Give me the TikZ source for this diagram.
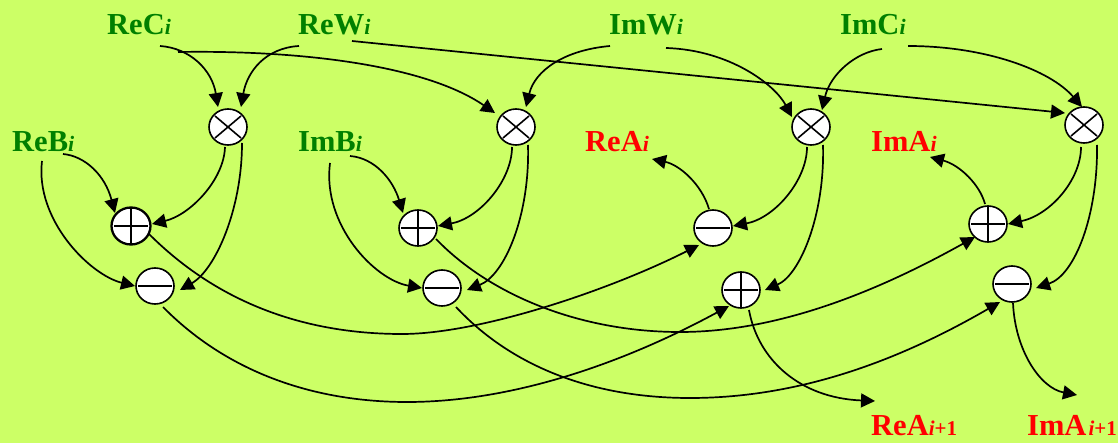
\documentclass[tikz,border=0pt]{standalone}
\usepackage{fontspec}
\setmainfont{Liberation Serif}
\usetikzlibrary{arrows.meta,shapes.geometric}
\definecolor{bgc}{RGB}{204,255,102}
\definecolor{grn}{RGB}{0,128,0}
\newcommand{\subf}{\fontsize{22}{22}\selectfont\bfseries\itshape}
\newcommand{\sbi}{{\subf i}}
\newcommand{\sbn}{{\fontsize{21}{21}\selectfont\bfseries{\itshape i}+1}}
\tikzset{
 x=1pt,y=-1pt,
 edge/.style={line width=1.7pt,-{Triangle[length=14pt,width=14pt]}},
 op/.style={draw=black,line width=1.6pt,fill=white,ellipse,minimum width=38pt,minimum height=36pt,inner sep=0pt},
 mulop/.style={op,path picture={\draw[line width=1.6pt] (path picture bounding box.center)+(-13,-11)--+(13,11) (path picture bounding box.center)+(13,-11)--+(-13,11);}},
 addop/.style={op,path picture={\draw[line width=1.8pt] (path picture bounding box.center)+(-17,0)--+(17,0) (path picture bounding box.center)+(0,-18)--+(0,18);}},
 subop/.style={op,path picture={\draw[line width=1.8pt] (path picture bounding box.center)+(-17,0)--+(17,0);}},
 lab/.style={anchor=base west,inner sep=0pt,font=\fontsize{30.5}{30}\selectfont\bfseries},
 inlab/.style={lab,text=grn},
 outlab/.style={lab,text=red},
}
\begin{document}
\begin{tikzpicture}
\useasboundingbox[fill=bgc] (0,0) rectangle (1118,443);
% labels
\node[inlab] (ReC) at (107,35) {ReC\sbi};
\node[inlab] (ReW) at (298,35) {ReW\sbi};
\node[inlab] (ImW) at (609,35) {ImW\sbi};
\node[inlab] (ImC) at (840,35) {ImC\sbi};
\node[inlab] (ReB) at (12,152) {ReB\sbi};
\node[inlab] (ImB) at (298,152) {ImB\sbi};
\node[outlab] (ReA) at (585,152) {ReA\sbi};
\node[outlab] (ImA) at (871,152) {ImA\sbi};
\node[outlab] (ReAn) at (871,435) {ReA\sbn};
\node[outlab] (ImAn) at (1027,435) {ImA\hspace{2pt}\sbn};
% operators
\node[mulop] (m1) at (228,127) {};
\node[addop,line width=2.3pt,minimum width=39pt,minimum height=37pt] (a1) at (131,226) {};
\node[subop] (s1) at (155,286) {};
\node[mulop] (m2) at (516,127) {};
\node[addop] (a2) at (418,228) {};
\node[subop] (s2) at (442,288) {};
\node[subop] (s3) at (713,228) {};
\node[addop] (a3) at (741,290) {};
\node[mulop] (m3) at (811,127) {};
\node[mulop] (m4) at (1084,125) {};
\node[addop] (a4) at (988,224) {};
\node[subop] (s4) at (1012,284) {};
% connectors
\draw[edge] ([shift={(53,11)}]ReC.base west) .. controls (190,48) and (212,70) .. ([shift={(-10,-20)}]m1.center);
\draw[edge] ([shift={(1,11)}]ReW.base west) .. controls (265,48) and (247,72) .. ([shift={(13,-20)}]m1.center);
\draw[edge] ([shift={(71,17)}]ReC.base west) .. controls (300,50) and (425,65) .. ([shift={(-21,-14)}]m2.center);
\draw[edge] ([shift={(54,6)}]ReW.base west) -- ([shift={(-19,-12)}]m4.center);
\draw[edge] ([shift={(1,11)}]ImW.base west) .. controls (565,50) and (535,70) .. ([shift={(10,-20)}]m2.center);
\draw[edge] ([shift={(57,13)}]ImW.base west) .. controls (730,50) and (775,85) .. ([shift={(-19,-10)}]m3.center);
\draw[edge] ([shift={(42,14)}]ImC.base west) .. controls (855,52) and (830,75) .. ([shift={(11,-17)}]m3.center);
\draw[edge] ([shift={(68,11)}]ImC.base west) .. controls (985,46) and (1050,70) .. ([shift={(-2,-18)}]m4.center);
\draw[edge] ([shift={(-3,20)}]m1.center) .. controls (224,180) and (190,215) .. ([shift={(21,-2)}]a1.center);
\draw[edge] ([shift={(14,16)}]m1.center) .. controls (242,210) and (215,270) .. ([shift={(25,4)}]s1.center);
\draw[edge] ([shift={(51,2)}]ReB.base west) .. controls (85,156) and (105,175) .. ([shift={(-16,-13)}]a1.center);
\draw[edge] ([shift={(30,9)}]ReB.base west) .. controls (35,220) and (90,275) .. ([shift={(-20,0)}]s1.center);
\draw[edge] ([shift={(18,8)}]a1.center) .. controls (215,300) and (300,334) .. (402,334) .. controls (480,334) and (610,290) .. ([shift={(-14,17)}]s3.center);
\draw[edge] ([shift={(8,21)}]s1.center) .. controls (225,370) and (310,402) .. (407,402) .. controls (510,402) and (620,365) .. ([shift={(-12,16)}]a3.center);
\draw[edge] ([shift={(52,4)}]ImB.base west) .. controls (375,158) and (393,180) .. ([shift={(-15,-15)}]a2.center);
\draw[edge] ([shift={(32,11)}]ImB.base west) .. controls (322,225) and (375,280) .. ([shift={(-20,0)}]s2.center);
\draw[edge] ([shift={(-4,20)}]m2.center) .. controls (512,180) and (480,218) .. ([shift={(20,-2)}]a2.center);
\draw[edge] ([shift={(12,18)}]m2.center) .. controls (530,215) and (505,275) .. ([shift={(25,2)}]s2.center);
\draw[edge] ([shift={(18,11)}]a2.center) .. controls (490,295) and (580,332) .. (680,332) .. controls (780,332) and (880,290) .. ([shift={(-13,13)}]a4.center);
\draw[edge] ([shift={(14,19)}]s2.center) .. controls (510,365) and (590,398) .. (690,398) .. controls (800,398) and (900,360) .. ([shift={(-12,18)}]s4.center);
\draw[edge] ([shift={(-4,-19)}]s3.center) .. controls (702,185) and (680,165) .. ([shift={(67,7)}]ReA.base west);
\draw[edge] ([shift={(-4,20)}]m3.center) .. controls (807,180) and (775,218) .. ([shift={(20,-2)}]s3.center);
\draw[edge] ([shift={(12,18)}]m3.center) .. controls (825,215) and (800,275) .. ([shift={(24,0)}]a3.center);
\draw[edge] ([shift={(8,20)}]a3.center) .. controls (758,360) and (800,398) .. ([shift={(4,-34)}]ReAn.base west);
\draw[edge] ([shift={(-3,-20)}]a4.center) .. controls (980,185) and (960,165) .. ([shift={(59,5)}]ImA.base west);
\draw[edge] ([shift={(-3,22)}]m4.center) .. controls (1081,180) and (1050,215) .. ([shift={(20,0)}]a4.center);
\draw[edge] ([shift={(13,20)}]m4.center) .. controls (1098,215) and (1075,275) .. ([shift={(24,4)}]s4.center);
\draw[edge] ([shift={(1,19)}]s4.center) .. controls (1015,350) and (1040,388) .. ([shift={(50,-40)}]ImAn.base west);
\end{tikzpicture}
\end{document}
